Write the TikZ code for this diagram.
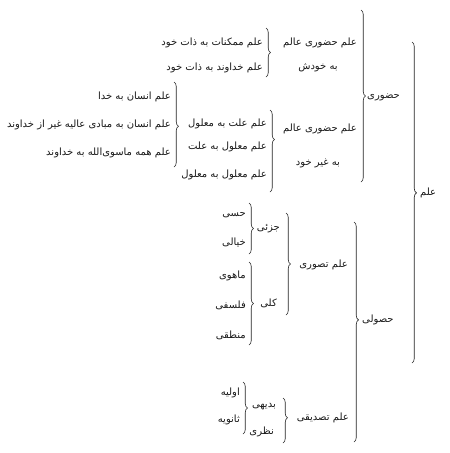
\documentclass[tikz,border=0pt]{standalone}
\usepackage{fontspec}
\usetikzlibrary{decorations.pathreplacing}
\newfontfamily\fafont[Script=Arabic]{DejaVu Sans}
\TeXXeTstate=1
\newcommand\fatxt[1]{\beginR #1\endR}
\begin{document}
\begin{tikzpicture}[x=1pt,y=-1pt,
  txt/.style={font=\fafont\fontsize{10}{12}\selectfont, inner sep=0pt, text=black!90},
  lbl/.style={txt, anchor=east},
  hd/.style={txt, anchor=west},
  br/.style={decorate, decoration={brace, amplitude=4.5pt, aspect=#1}, line width=0.6pt, black!85},
  br/.default=0.5]
\fill[white] (0,0) rectangle (450,453);
\useasboundingbox (0,0) rectangle (450,453);
% top level
\node[hd] (ilm) at (420,193) {\fatxt{علم}};
\coordinate (b0t) at (412,42); \coordinate (b0b) at (412,363);
\draw[br=0.47] (b0t) -- (b0b);
% hozuri
\node[hd] (hozuri) at (367,97) {\fatxt{حضوری}};
\coordinate (b1t) at (361,10); \coordinate (b1b) at (361,182);
\draw[br=0.5] (b1t) -- (b1b);
% hozuri - self
\node[lbl] (h1a) at (357,43) {\fatxt{علم حضوری عالم}};
\node[txt] (h1b) at (318,68) {\fatxt{به خودش}};
\coordinate (b2t) at (266,28); \coordinate (b2b) at (266,77);
\draw[br=0.5] (b2t) -- (b2b);
\node[lbl] (m1) at (263,43) {\fatxt{علم ممکنات به ذات خود}};
\node[lbl] (m2) at (263,68) {\fatxt{علم خداوند به ذات خود}};
% hozuri - other
\node[lbl] (h2a) at (357,129) {\fatxt{علم حضوری عالم}};
\node[txt] (h2b) at (318,163) {\fatxt{به غیر خود}};
\coordinate (b3t) at (270,110); \coordinate (b3b) at (270,192);
\draw[br=0.36] (b3t) -- (b3b);
\node[lbl] (c1) at (267,124) {\fatxt{علم علت به معلول}};
\node[lbl] (c2) at (267,147) {\fatxt{علم معلول به علت}};
\node[lbl] (c3) at (267,175) {\fatxt{علم معلول به معلول}};
\coordinate (b4t) at (174,82); \coordinate (b4b) at (174,167);
\draw[br=0.52] (b4t) -- (b4b);
\node[lbl] (e1) at (171,97) {\fatxt{علم انسان به خدا}};
\node[lbl] (e2) at (171,125) {\fatxt{علم انسان به مبادی عالیه غیر از خداوند}};
\node[lbl] (e3) at (171,153) {\fatxt{علم همه ماسوی‌الله به خداوند}};
% hosuli
\node[hd] (hosuli) at (362,320) {\fatxt{حصولی}};
\coordinate (b5t) at (354,222); \coordinate (b5b) at (354,442);
\draw[br=0.445] (b5t) -- (b5b);
% tasavvori
\node[lbl] (tas) at (348,265) {\fatxt{علم تصوری}};
\coordinate (b6t) at (286,213); \coordinate (b6b) at (286,315);
\draw[br=0.5] (b6t) -- (b6b);
\node[lbl] (joz) at (280,229) {\fatxt{جزئی}};
\coordinate (b7t) at (249,203); \coordinate (b7b) at (249,254);
\draw[br=0.5] (b7t) -- (b7b);
\node[lbl] (hesi) at (246,215) {\fatxt{حسی}};
\node[lbl] (khia) at (246,242) {\fatxt{خیالی}};
\node[lbl] (koli) at (277,303) {\fatxt{کلی}};
\coordinate (b8t) at (249,262); \coordinate (b8b) at (249,345);
\draw[br=0.5] (b8t) -- (b8b);
\node[lbl] (mah) at (246,276) {\fatxt{ماهوی}};
\node[lbl] (fal) at (246,305) {\fatxt{فلسفی}};
\node[lbl] (man) at (246,335) {\fatxt{منطقی}};
% tasdiqi
\node[lbl] (tsd) at (349,418) {\fatxt{علم تصدیقی}};
\coordinate (b9t) at (283,398); \coordinate (b9b) at (283,443);
\draw[br=0.44] (b9t) -- (b9b);
\node[lbl] (bad) at (276,407) {\fatxt{بدیهی}};
\node[lbl] (naz) at (274,432) {\fatxt{نظری}};
\coordinate (b10t) at (243,382); \coordinate (b10b) at (243,434);
\draw[br=0.5] (b10t) -- (b10b);
\node[lbl] (avv) at (240,393) {\fatxt{اولیه}};
\node[lbl] (san) at (240,420) {\fatxt{ثانویه}};
\end{tikzpicture}
\end{document}
